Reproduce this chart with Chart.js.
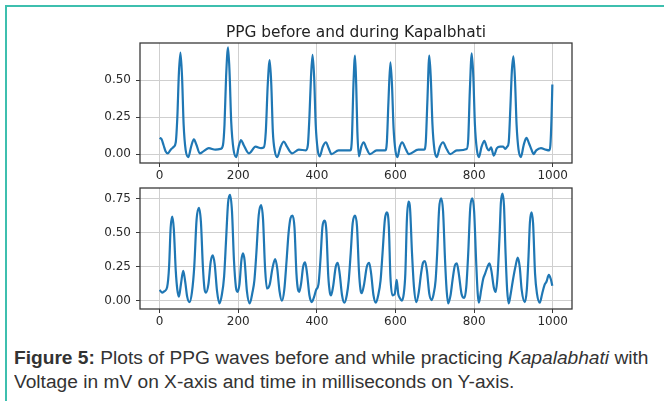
<!DOCTYPE html>
<html>
<head>
<meta charset="utf-8">
<script src="https://cdn.jsdelivr.net/npm/chart.js@4"></script>
<style>
  html, body { margin: 0; padding: 0; background: #fff; }
  body { width: 664px; height: 401px; position: relative; overflow: hidden; }
  #frame { position: absolute; left: 5px; top: 5px; width: 700px; height: 420px;
           border-left: 2px solid #3dbfae; border-top: 2px solid #3dbfae; }
  canvas { position: absolute; left: 0; }
  #topChart { top: 0; }
  #bottomChart { top: 160px; }
  .caption { position: absolute; left: 14px; font-family: "Liberation Sans", Arial, sans-serif;
             font-size: 18px; color: #333; white-space: nowrap; line-height: 20px;
             transform: scaleX(1.064); transform-origin: left center; }
  #cap1 { top: 348px; }
  #cap2 { top: 372px; }
</style>
</head>
<body>
<div id="frame"></div>
<canvas id="topChart" width="600" height="190"></canvas>
<canvas id="bottomChart" width="600" height="176"></canvas>
<div class="caption" id="cap1"><b>Figure 5:</b> Plots of PPG waves before and while practicing <i>Kapalabhati</i> with</div>
<div class="caption" id="cap2">Voltage in mV on X-axis and time in milliseconds on Y-axis.</div>
<script>
// PPG before Kapalbhati (time, voltage)
const topTime = [0, 5, 10, 15, 21, 28, 36, 41, 45, 49, 53, 57, 61, 66, 73, 80, 87, 94, 102, 112, 125, 142, 155,
  161, 165, 169, 174, 178, 182, 188, 195, 201, 207, 214, 227, 244, 258, 265, 270, 275, 280, 284, 288, 293, 299,
  308, 316, 324, 337, 354, 372, 377, 381, 385, 389, 393, 397, 402, 407, 415, 423, 430, 437, 455, 485, 489, 493,
  497, 500, 503, 507, 513, 519, 526, 535, 552, 574, 578, 582, 587, 591, 595, 600, 605, 611, 617, 625, 634, 658,
  673, 677, 681, 686, 690, 694, 699, 705, 713, 721, 729, 739, 756, 781, 785, 789, 794, 798, 802, 807, 812, 819,
  826, 833, 838, 843, 850, 858, 866, 874, 879, 884, 888, 892, 896, 900, 904, 908, 913, 919, 926, 933, 940, 946,
  951, 958, 970, 982, 991, 994, 997, 999];
const topVolt = [0.11, 0.10, 0.06, 0.02, 0.005, 0.03, 0.05, 0.08, 0.25, 0.55, 0.685, 0.52, 0.2, 0.03, -0.02, 0.05,
  0.10, 0.06, 0.005, 0.02, 0.04, 0.03, 0.035, 0.06, 0.2, 0.52, 0.72, 0.54, 0.22, 0.03, -0.02, 0.05, 0.095, 0.06,
  0.005, 0.05, 0.04, 0.045, 0.15, 0.47, 0.635, 0.47, 0.15, 0.02, -0.02, 0.05, 0.085, 0.05, 0.005, 0.03, 0.025,
  0.06, 0.25, 0.52, 0.67, 0.52, 0.2, 0.03, -0.015, 0.05, 0.08, 0.04, 0.0, 0.025, 0.025, 0.1, 0.47, 0.665, 0.47,
  0.15, -0.015, 0.05, 0.08, 0.04, 0.0, 0.025, 0.025, 0.08, 0.35, 0.62, 0.47, 0.18, 0.02, -0.02, 0.05, 0.08, 0.04,
  0.0, 0.03, 0.03, 0.08, 0.35, 0.665, 0.5, 0.2, 0.03, -0.02, 0.05, 0.08, 0.04, 0.0, 0.025, 0.035, 0.1, 0.42,
  0.68, 0.52, 0.2, 0.03, -0.02, 0.05, 0.09, 0.04, 0.025, 0.045, -0.01, 0.04, 0.05, 0.05, 0.035, 0.05, 0.08, 0.3,
  0.56, 0.66, 0.5, 0.2, 0.03, -0.02, 0.06, 0.11, 0.07, 0.03, 0.0, 0.025, 0.04, 0.03, 0.025, 0.06, 0.25, 0.47];

// PPG during Kapalbhati (time, voltage)
const bottomTime = [0, 6, 12, 19, 24, 28, 32, 36, 41, 45, 49, 54, 60, 65, 70, 76, 82, 88, 94, 100, 105, 110, 114,
  118, 124, 130, 135, 140, 146, 152, 158, 164, 169, 174, 179, 184, 189, 194, 198, 203, 208, 212, 216, 222, 229,
  236, 241, 246, 252, 258, 263, 268, 273, 280, 287, 294, 299, 305, 311, 317, 323, 328, 333, 338, 343, 348, 352,
  355, 360, 365, 370, 375, 381, 387, 393, 398, 404, 409, 414, 419, 424, 429, 433, 436, 441, 448, 453, 458, 464,
  470, 476, 481, 486, 491, 497, 502, 507, 511, 514, 520, 527, 533, 538, 544, 550, 556, 562, 567, 573, 578, 583,
  587, 592, 598, 603, 607, 611, 616, 621, 625, 629, 633, 637, 642, 647, 653, 659, 665, 670, 675, 680, 686, 692,
  697, 702, 706, 711, 716, 721, 726, 730, 734, 740, 745, 751, 756, 761, 768, 775, 780, 785, 790, 795, 800, 805,
  809, 812, 818, 823, 828, 834, 839, 844, 850, 855, 860, 865, 868, 872, 876, 880, 884, 888, 893, 898, 905, 911,
  916, 921, 929, 934, 938, 942, 946, 950, 955, 960, 967, 973, 979, 984, 990, 995, 999];
const bottomVolt = [0.08, 0.06, 0.07, 0.10, 0.25, 0.54, 0.62, 0.53, 0.22, 0.08, 0.03, 0.12, 0.22, 0.14, 0.03, -0.01,
  0.06, 0.25, 0.6, 0.685, 0.58, 0.25, 0.09, 0.06, 0.12, 0.29, 0.335, 0.27, 0.07, -0.02, 0.04, 0.18, 0.45, 0.72,
  0.78, 0.66, 0.3, 0.1, 0.065, 0.12, 0.3, 0.35, 0.3, 0.07, -0.02, 0.06, 0.15, 0.35, 0.63, 0.705, 0.6, 0.25,
  0.09, 0.12, 0.24, 0.307, 0.24, 0.07, 0.0, 0.08, 0.3, 0.5, 0.61, 0.627, 0.54, 0.2, 0.08, 0.065, 0.13, 0.25,
  0.283, 0.2, 0.04, -0.01, 0.03, 0.08, 0.12, 0.3, 0.54, 0.59, 0.52, 0.18, 0.06, 0.04, 0.1, 0.25, 0.28, 0.2, 0.04,
  -0.015, 0.04, 0.15, 0.35, 0.57, 0.627, 0.55, 0.22, 0.08, 0.055, 0.12, 0.25, 0.28, 0.2, 0.04, -0.015, 0.04, 0.15,
  0.35, 0.6, 0.652, 0.55, 0.18, 0.04, 0.05, 0.153, 0.05, 0.02, 0.0, 0.05, 0.2, 0.6, 0.73, 0.68, 0.35, 0.1, -0.01,
  0.06, 0.2, 0.28, 0.293, 0.22, 0.05, 0.005, 0.05, 0.15, 0.35, 0.68, 0.755, 0.66, 0.3, 0.08, -0.02, 0.04, 0.15,
  0.26, 0.276, 0.2, 0.05, 0.02, 0.1, 0.35, 0.68, 0.755, 0.66, 0.3, 0.06, -0.015, 0.08, 0.16, 0.2, 0.25, 0.276,
  0.22, 0.1, 0.065, 0.2, 0.5, 0.72, 0.79, 0.7, 0.35, 0.08, -0.02, 0.05, 0.14, 0.25, 0.317, 0.25, 0.08, -0.01,
  0.08, 0.3, 0.58, 0.652, 0.57, 0.2, 0.05, -0.015, 0.05, 0.115, 0.14, 0.19, 0.16, 0.11];

const xTicks = [0, 200, 400, 600, 800, 1000];
const topYTicks = [0, 0.25, 0.5];
const bottomYTicks = [0, 0.25, 0.5, 0.75];

const LINE_COLOR = '#1f77b4';
const TICK_FONT = {family: 'DejaVu Sans', size: 12};

// draws the black box round the axes, and the title above it
const frameBox = {
  id: 'frameBox',
  afterDraw(chart, args, opts) {
    const {ctx, chartArea: a} = chart;
    ctx.save();
    ctx.strokeStyle = '#3a3a3a';
    ctx.lineWidth = 1.3;
    ctx.strokeRect(a.left, a.top, a.width, a.height);
    if (opts.title) {
      ctx.font = '15.4px "DejaVu Sans"';
      ctx.fillStyle = '#222';
      ctx.textAlign = 'center';
      ctx.textBaseline = 'alphabetic';
      ctx.fillText(opts.title, (a.left + a.right) / 2, a.top - 6);
    }
    ctx.restore();
  }
};

function makeChart(id, times, volts, yTicks, yMin, yMax, padTop, title) {
  const points = times.map((t, i) => ({x: t, y: volts[i]}));
  return new Chart(document.getElementById(id).getContext('2d'), {
    type: 'line',
    data: {
      datasets: [{
        data: points,
        borderColor: LINE_COLOR,
        borderWidth: 2.2,
        pointRadius: 0,
        fill: false,
        cubicInterpolationMode: 'monotone'
      }]
    },
    options: {
      responsive: false,
      animation: false,
      devicePixelRatio: 1,
      layout: {padding: {top: padTop, right: 28, left: 0, bottom: 0}},
      plugins: {
        legend: {display: false},
        tooltip: {enabled: false},
        frameBox: {title: title}
      },
      scales: {
        x: {
          type: 'linear',
          min: -50,
          max: 1049,
          afterBuildTicks: s => { s.ticks = xTicks.map(v => ({value: v})); },
          afterFit: s => { s.height = 27; },
          ticks: {font: TICK_FONT, color: '#2a2a2a', padding: 2, maxRotation: 0,
                  callback: v => String(v)},
          grid: {color: '#cfcfcf', lineWidth: 1, tickLength: 4, tickColor: '#3a3a3a'},
          border: {display: false}
        },
        y: {
          min: yMin,
          max: yMax,
          afterBuildTicks: s => { s.ticks = yTicks.map(v => ({value: v})); },
          afterFit: s => { s.width = 140; },
          ticks: {font: TICK_FONT, color: '#2a2a2a', padding: 5,
                  callback: v => v.toFixed(2)},
          grid: {color: '#cfcfcf', lineWidth: 1, tickLength: 4, tickColor: '#3a3a3a'},
          border: {display: false}
        }
      }
    },
    plugins: [frameBox]
  });
}

makeChart('topChart', topTime, topVolt, topYTicks, -0.06, 0.75, 43, 'PPG before and during Kapalbhati');
makeChart('bottomChart', bottomTime, bottomVolt, bottomYTicks, -0.061, 0.831, 28, '');
</script>
</body>
</html>
